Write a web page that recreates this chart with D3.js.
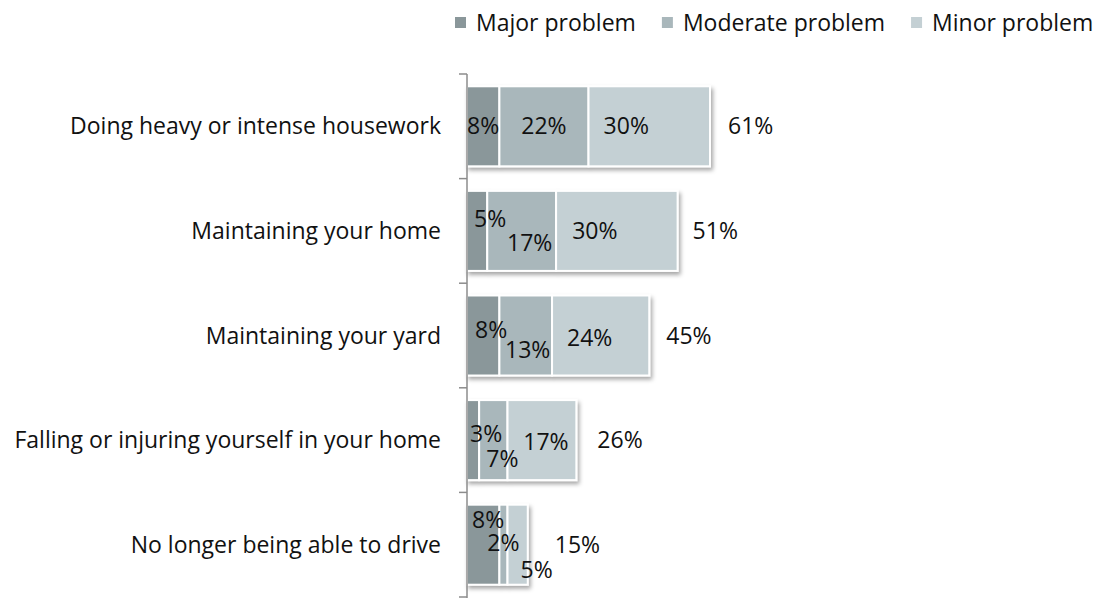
<!DOCTYPE html>
<html>
<head>
<meta charset="utf-8">
<script src="https://cdn.jsdelivr.net/npm/d3@7"></script>
<style>
  html, body { margin: 0; padding: 0; background: #fff; }
  svg { display: block; }
  text { font-family: "Open Sans", sans-serif; fill: #111; }
</style>
</head>
<body>
<svg id="chart" width="1115" height="598"></svg>
<script>
// Share of respondents naming each issue as a problem
const categories = [
  "Doing heavy or intense housework",
  "Maintaining your home",
  "Maintaining your yard",
  "Falling or injuring yourself in your home",
  "No longer being able to drive"
];
const seriesNames = ["Major problem", "Moderate problem", "Minor problem"];
const major    = [8, 5, 8, 3, 8];
const moderate = [22, 17, 13, 7, 2];
const minor    = [30, 30, 24, 17, 5];
const totals   = [61, 51, 45, 26, 15];

const colors = ["#8a979a", "#a9b7bb", "#c4d0d4"];

// Hand-placed label offsets (px) so small segments' labels don't collide
const labelNudge = [
  [[0, 0], [0, 0], [-23, 0]],
  [[13, -12], [8, 12], [-22, 0]],
  [[8, -6], [2, 14], [-11, 2]],
  [[13, -6], [9, 19], [4, 2]],
  [[5, -25], [0, -2], [19, 25]]
];
const totalGap = [18, 15, 17, 21, 27];

const svg = d3.select("#chart");
const fontSize = 23;

const x = d3.scaleLinear().domain([0, 100]).range([467, 872]);
const y = d3.scaleBand()
  .domain(categories)
  .range([74, 597])
  .paddingInner(0.235)
  .paddingOuter(0.1175);

const rows = categories.map((c, i) => ({
  cat: c, i,
  values: [major[i], moderate[i], minor[i]],
  total: totals[i]
}));

// soft drop shadow under each bar
const defs = svg.append("defs");
const f = defs.append("filter").attr("id", "shadow")
  .attr("x", "-10%").attr("y", "-10%").attr("width", "130%").attr("height", "140%");
f.append("feDropShadow")
  .attr("dx", 2).attr("dy", 3).attr("stdDeviation", 2)
  .attr("flood-color", "#000").attr("flood-opacity", 0.35);

// bars
const barG = svg.append("g");
rows.forEach(r => {
  let acc = 0;
  const segs = r.values.map((v, k) => {
    const s = { x0: acc, x1: acc + v, k, v };
    acc += v;
    return s;
  });
  r.segs = segs;
  const g = barG.append("g").attr("filter", "url(#shadow)");
  g.selectAll("rect").data(segs).join("rect")
    .attr("x", d => x(d.x0))
    .attr("y", y(r.cat))
    .attr("width", d => x(d.x1) - x(d.x0))
    .attr("height", y.bandwidth())
    .attr("fill", d => colors[d.k])
    .attr("stroke", "#fff")
    .attr("stroke-width", 2);
});

// axis line and ticks at band boundaries
const step = y.step();
const bounds = categories.map(c => y(c) - step * y.paddingInner() / 2);
bounds.push(bounds[bounds.length - 1] + step);
const axisG = svg.append("g");
axisG.append("line")
  .attr("x1", x(0)).attr("x2", x(0))
  .attr("y1", bounds[0]).attr("y2", 598)
  .attr("stroke", "#8c8c8c").attr("stroke-width", 1.5);
axisG.selectAll("line.tick").data(bounds).join("line")
  .attr("class", "tick")
  .attr("x1", x(0) - 8).attr("x2", x(0))
  .attr("y1", d => d).attr("y2", d => d)
  .attr("stroke", "#8c8c8c").attr("stroke-width", 1.5);

// category labels
svg.append("g").selectAll("text").data(rows).join("text")
  .attr("x", 441)
  .attr("y", r => y(r.cat) + y.bandwidth() / 2)
  .attr("dy", "0.35em")
  .attr("text-anchor", "end")
  .style("font-size", fontSize + "px")
  .text(r => r.cat);

// segment value labels
const lblG = svg.append("g");
rows.forEach(r => {
  r.segs.forEach(s => {
    const n = labelNudge[r.i][s.k];
    lblG.append("text")
      .attr("x", (x(s.x0) + x(s.x1)) / 2 + n[0])
      .attr("y", y(r.cat) + y.bandwidth() / 2 + n[1])
      .attr("dy", "0.35em")
      .attr("text-anchor", "middle")
      .style("font-size", fontSize + "px")
      .text(s.v + "%");
  });
});

// totals to the right of each bar
svg.append("g").selectAll("text").data(rows).join("text")
  .attr("x", r => x(r.segs[2].x1) + totalGap[r.i])
  .attr("y", r => y(r.cat) + y.bandwidth() / 2)
  .attr("dy", "0.35em")
  .style("font-size", fontSize + "px")
  .text(r => r.total + "%");

// legend
const legend = svg.append("g");
let lx = 455;
seriesNames.forEach((name, k) => {
  legend.append("rect")
    .attr("x", lx).attr("y", 17).attr("width", 11).attr("height", 11)
    .attr("fill", colors[k]);
  const t = legend.append("text")
    .attr("x", lx + 21).attr("y", 22.5)
    .attr("dy", "0.35em")
    .style("font-size", fontSize + "px")
    .text(name);
  lx += 21 + t.node().getComputedTextLength() + 26;
});
</script>
</body>
</html>
